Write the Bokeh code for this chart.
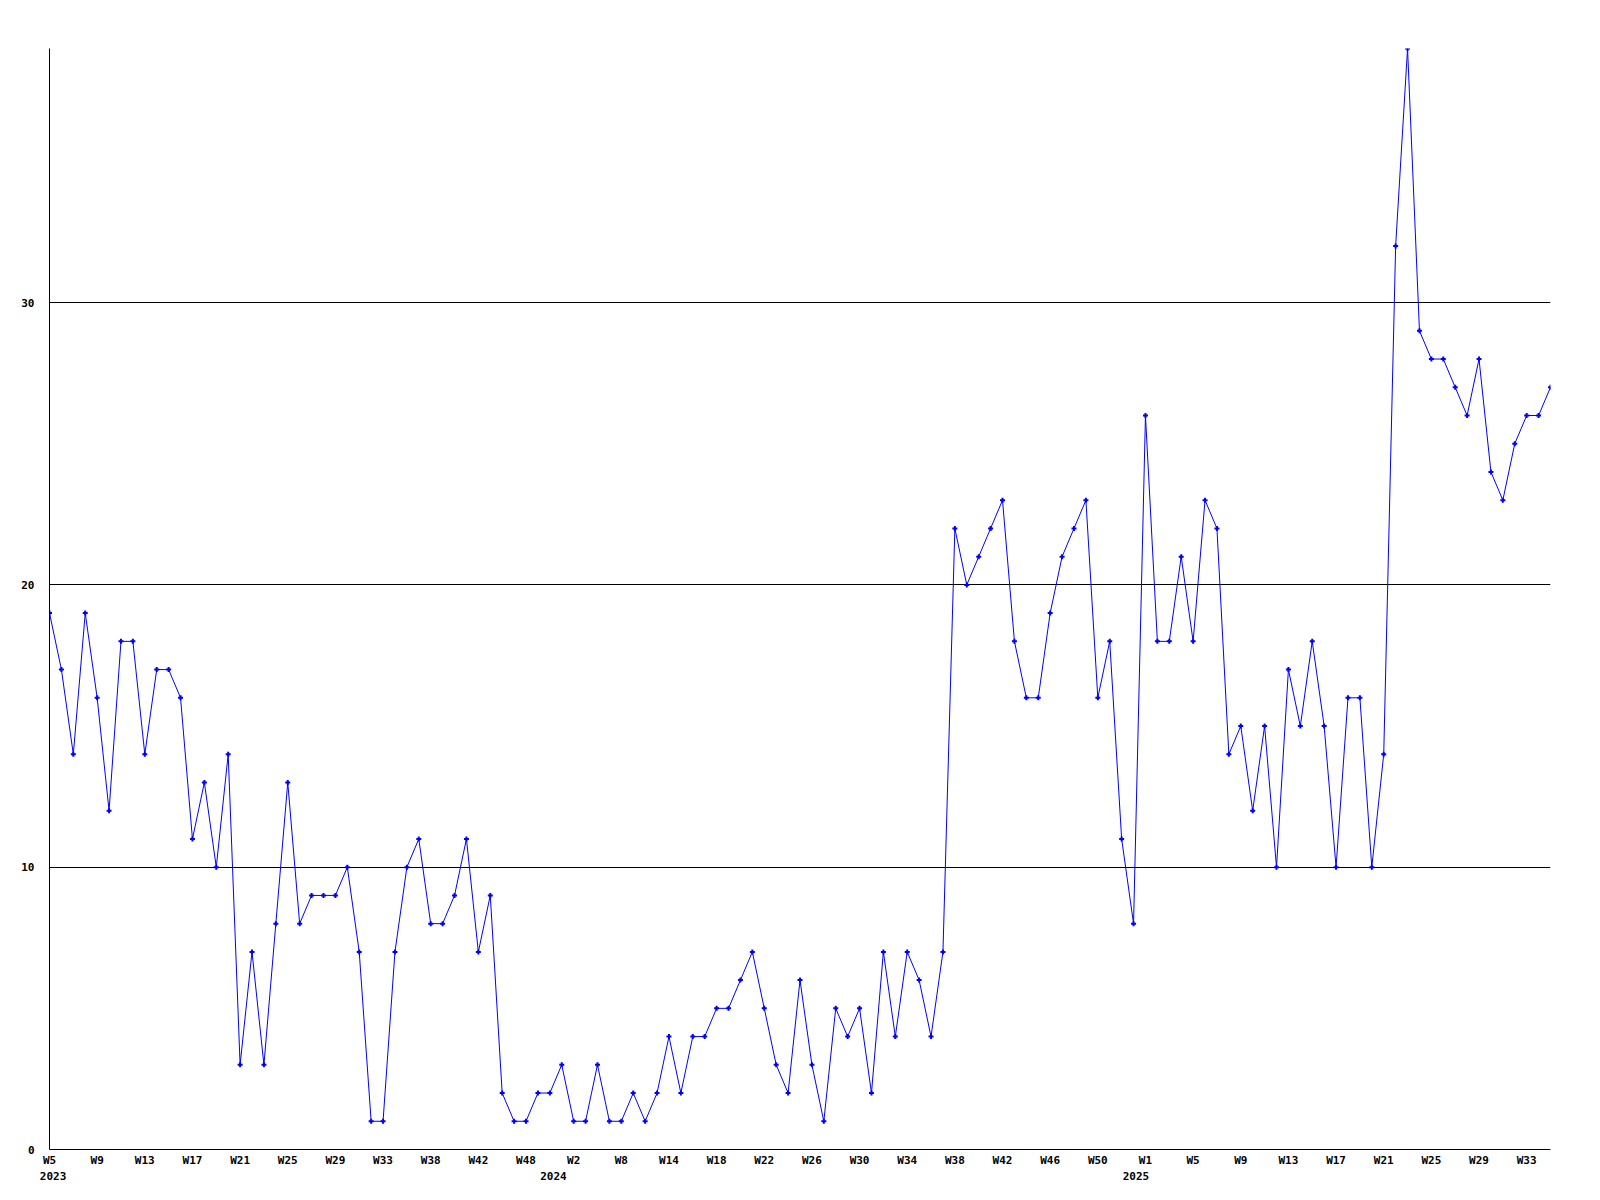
from bokeh.plotting import figure
from bokeh.models import Range1d, FixedTicker, LinearAxis
from bokeh.embed import file_html
from bokeh.resources import INLINE

# ---- data ----
values = [19, 17, 14, 19, 16, 12, 18, 18, 14, 17,
          17, 16, 11, 13, 10, 14, 3, 7, 3, 8,
          13, 8, 9, 9, 9, 10, 7, 1, 1, 7,
          10, 11, 8, 8, 9, 11, 7, 9, 2, 1,
          1, 2, 2, 3, 1, 1, 3, 1, 1, 2,
          1, 2, 4, 2, 4, 4, 5, 5, 6, 7,
          5, 3, 2, 6, 3, 1, 5, 4, 5, 2,
          7, 4, 7, 6, 4, 7, 22, 20, 21, 22,
          23, 18, 16, 16, 19, 21, 22, 23, 16, 18,
          11, 8, 26, 18, 18, 21, 18, 23, 22, 14,
          15, 12, 15, 10, 17, 15, 18, 15, 10, 16,
          16, 10, 14, 32, 39, 29, 28, 28, 27, 26,
          28, 24, 23, 25, 26, 26, 27]

week_labels = ["W5", "W9", "W13", "W17", "W21", "W25", "W29", "W33", "W38", "W42", "W48",
               "W2", "W8", "W14", "W18", "W22", "W26", "W30", "W34", "W38", "W42", "W46", "W50",
               "W1", "W5", "W9", "W13", "W17", "W21", "W25", "W29", "W33"]
year_labels = ["2023", "2024", "2025"]
y_ticks = [0, 10, 20, 30]

# ---- layout settings ----
label_every = 4
year_label_pos = [0.3, 42.3, 91.2]
FONT = "DejaVu Sans Mono"
FSIZE = "11px"
BLUE = "#0000ff"

x = list(range(len(values)))

p = figure(frame_width=1501, frame_height=1101,
           output_backend="svg", toolbar_location=None,
           x_range=Range1d(0, len(values) - 1), y_range=Range1d(0, max(values)),
           min_border_left=49, min_border_top=48, min_border_right=10, min_border_bottom=5,
           background_fill_color="white", border_fill_color="white",
           outline_line_color=None)

# grid
p.xgrid.visible = False
p.ygrid.ticker = FixedTicker(ticks=y_ticks)
p.ygrid.grid_line_color = "black"
p.ygrid.grid_line_width = 1

# y axis
ya = p.yaxis[0]
ya.ticker = FixedTicker(ticks=y_ticks)
ya.major_tick_out = 0
ya.major_tick_in = 0
ya.minor_tick_line_color = None
ya.axis_line_color = "black"
ya.major_label_standoff = 15
ya.major_label_text_font = FONT
ya.major_label_text_font_style = "bold"
ya.major_label_text_font_size = FSIZE
ya.major_label_text_color = "black"

# x axis (weeks)
week_ticks = [i * label_every for i in range(len(week_labels))]
xa = p.xaxis[0]
xa.ticker = FixedTicker(ticks=week_ticks)
xa.major_label_overrides = {t: lab for t, lab in zip(week_ticks, week_labels)}
xa.major_tick_out = 0
xa.major_tick_in = 0
xa.minor_tick_line_color = None
xa.axis_line_color = "black"
xa.major_label_standoff = 4
xa.major_label_text_font = FONT
xa.major_label_text_font_style = "bold"
xa.major_label_text_font_size = FSIZE
xa.major_label_text_color = "black"

# second x axis (years)
ya2 = LinearAxis(ticker=FixedTicker(ticks=year_label_pos),
                 major_label_overrides={t: lab for t, lab in zip(year_label_pos, year_labels)},
                 axis_line_color=None, major_tick_line_color=None, minor_tick_line_color=None,
                 major_tick_out=0, major_tick_in=0, major_label_standoff=2,
                 major_label_text_font=FONT, major_label_text_font_style="bold",
                 major_label_text_font_size=FSIZE, major_label_text_color="black")
p.add_layout(ya2, "below")

# data
p.line(x, values, line_color=BLUE, line_width=1)
p.scatter(x, values, marker="cross", size=5, line_color=BLUE, line_width=2)

open("out.html", "w").write(file_html(p, INLINE))
